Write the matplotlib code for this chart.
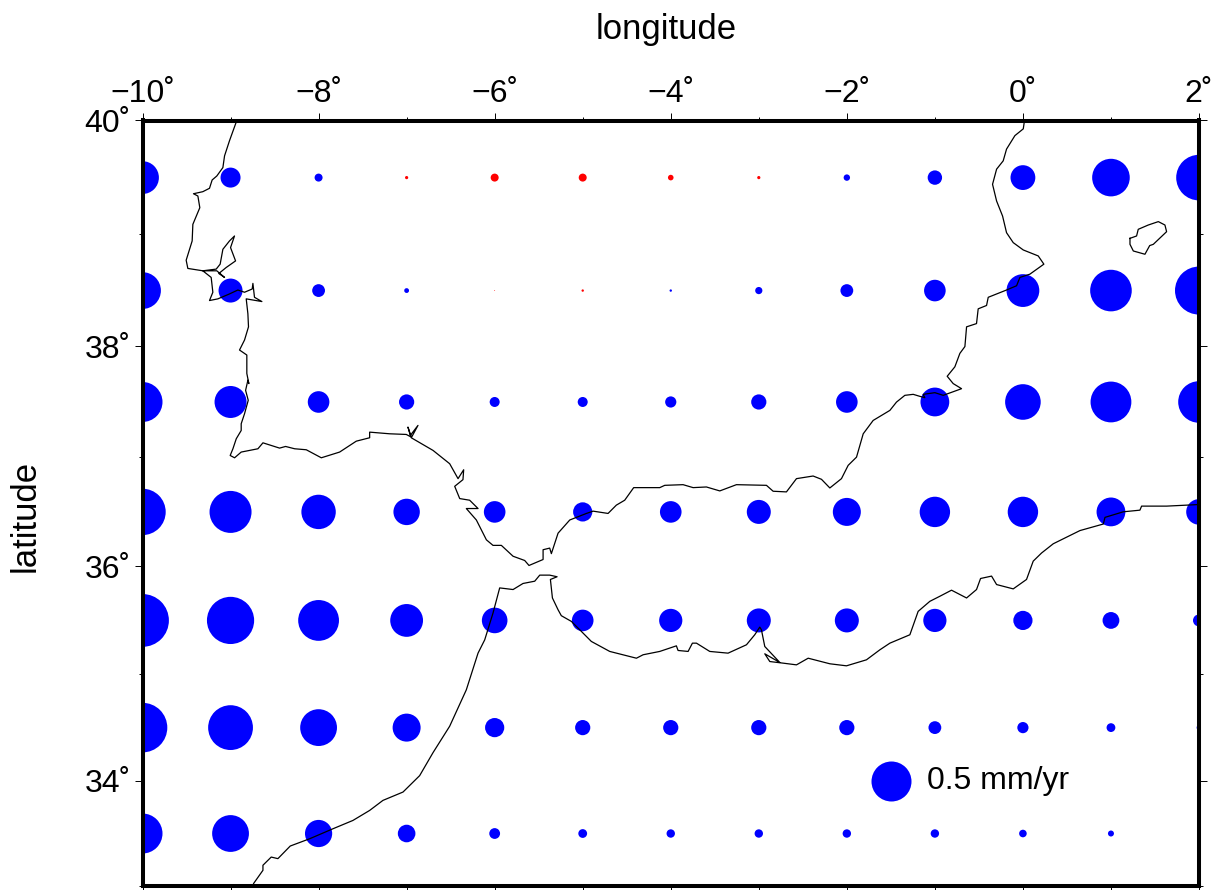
import numpy as np
import matplotlib
matplotlib.use("Agg")
import matplotlib.pyplot as plt

plt.rcParams['font.family'] = ['Liberation Sans', 'DejaVu Sans']

lons = [-10, -9, -8, -7, -6, -5, -4, -3, -2, -1, 0, 1, 2]
lats = [39.5, 38.5, 37.5, 36.5, 35.5, 34.5, 33.5]

# rate in mm/yr, one row per latitude, negative ones are red
rate_395 = [0.41, 0.25, 0.10, -0.04, -0.10, -0.10, -0.07, -0.04, 0.08, 0.18, 0.31, 0.47, 0.57]
rate_385 = [0.46, 0.30, 0.16, 0.06, -0.01, -0.03, 0.03, 0.09, 0.16, 0.27, 0.41, 0.52, 0.60]
rate_375 = [0.50, 0.40, 0.27, 0.19, 0.125, 0.125, 0.14, 0.19, 0.27, 0.36, 0.445, 0.51, 0.52]
rate_365 = [0.58, 0.525, 0.43, 0.33, 0.27, 0.24, 0.27, 0.30, 0.35, 0.38, 0.38, 0.36, 0.32]
rate_355 = [0.66, 0.59, 0.51, 0.41, 0.32, 0.27, 0.29, 0.30, 0.30, 0.29, 0.24, 0.21, 0.15]
rate_345 = [0.62, 0.56, 0.46, 0.35, 0.24, 0.19, 0.19, 0.19, 0.19, 0.16, 0.14, 0.11, 0.06]
rate_335 = [0.50, 0.46, 0.34, 0.22, 0.135, 0.11, 0.105, 0.105, 0.105, 0.105, 0.095, 0.075, 0.045]
rates = [rate_395, rate_385, rate_375, rate_365, rate_355, rate_345, rate_335]

iberia_lon = [-8.936, -9.012, -9.068, -9.087, -9.156, -9.209, -9.239, -9.315, -9.421, -9.371, -9.349, -9.428,
              -9.436, -9.504, -9.485, -9.315, -9.163, -9.118, -9.087, -9.012, -8.955, -9.000, -8.943, -9.050,
              -9.133, -9.068, -9.156, -9.315, -9.220, -9.201, -9.239, -9.144, -9.012, -8.917, -8.841, -8.754,
              -8.746, -8.728, -8.644, -8.822, -8.803, -8.796, -8.841, -8.898, -8.815, -8.815, -8.792,
              -8.803, -8.829, -8.799, -8.841, -8.879, -8.879, -8.935, -8.973, -9.004, -8.954, -8.879, -8.689,
              -8.632, -8.538, -8.443, -8.375, -8.272, -8.140, -7.969, -7.761, -7.572, -7.420, -7.420, -7.193,
              -7.004, -6.947, -6.985, -6.958, -6.871, -6.947, -6.700, -6.511, -6.416, -6.352, -6.360, -6.454,
              -6.397, -6.284, -6.189, -6.322, -6.208, -6.094, -6.019, -5.924, -5.791, -5.659, -5.610, -5.450,
              -5.450, -5.375, -5.356, -5.280, -5.147, -4.958, -4.882,
              -4.712, -4.618, -4.523, -4.421, -4.125, -4.068, -3.860, -3.746, -3.595, -3.443, -3.254, -2.913,
              -2.837, -2.686, -2.572, -2.383, -2.288, -2.193, -2.061, -1.985, -1.890, -1.814, -1.701, -1.511,
              -1.436, -1.341, -1.246, -1.171, -1.114, -1.133, -1.000, -0.905, -0.697,
              -0.792, -0.860, -0.773, -0.716, -0.659, -0.640, -0.527, -0.508, -0.413, -0.394, -0.186, -0.072,
              -0.034, 0.079, 0.238, 0.174, 0.004, -0.110, -0.186, -0.231, -0.299, -0.345, -0.299, -0.224,
              -0.186, -0.091, 0.004, 0.015, 0.02]
iberia_lat = [39.985, 39.823, 39.691, 39.588, 39.514, 39.479, 39.406, 39.376, 39.358, 39.338, 39.235, 39.088,
              38.941, 38.770, 38.697, 38.676, 38.691, 38.735, 38.867, 38.941, 38.985, 38.882, 38.764, 38.705,
              38.652, 38.617, 38.676, 38.676, 38.617, 38.485, 38.411, 38.426, 38.470, 38.505, 38.485, 38.514,
              38.564, 38.440, 38.402, 38.426, 38.293, 38.176, 38.058, 37.968, 37.923, 37.757, 37.666,
              37.696, 37.605, 37.515, 37.394, 37.303, 37.242, 37.167, 37.076, 37.015, 36.994, 37.046, 37.076,
              37.130, 37.106, 37.082, 37.097, 37.076, 37.067, 36.994, 37.046, 37.145, 37.176, 37.227, 37.212,
              37.206, 37.182, 37.273, 37.197, 37.288, 37.176, 37.061, 36.940, 36.804, 36.885, 36.795, 36.734,
              36.622, 36.607, 36.531, 36.531, 36.426, 36.244, 36.193, 36.193, 36.093, 36.054, 36.008, 36.063,
              36.153, 36.168, 36.117, 36.305, 36.426, 36.486, 36.507,
              36.486, 36.562, 36.607, 36.722, 36.722, 36.743, 36.749, 36.722, 36.728, 36.692, 36.749, 36.743,
              36.689, 36.683, 36.804, 36.828, 36.798, 36.719, 36.804, 36.925, 37.000, 37.212, 37.333, 37.424,
              37.499, 37.560, 37.569, 37.551, 37.539, 37.569, 37.584, 37.560, 37.620,
              37.666, 37.732, 37.817, 37.938, 37.999, 38.176, 38.205, 38.337, 38.367, 38.440, 38.505, 38.543,
              38.617, 38.646, 38.735, 38.808, 38.861, 38.926, 39.014, 39.161, 39.294, 39.441, 39.574, 39.647,
              39.750, 39.868, 39.927, 39.985, 40.05]

africa_lon = [-8.738, -8.632, -8.632, -8.538, -8.462, -8.322, -8.102, -7.837, -7.610, -7.420, -7.269, -7.041,
              -6.852, -6.700, -6.511, -6.322, -6.189, -6.113, -6.019, -5.943, -5.791, -5.678, -5.545, -5.488,
              -5.375, -5.291, -5.367, -5.344, -5.280, -5.243, -5.129, -5.015, -4.902, -4.693, -4.390, -4.314,
              -4.125, -3.936, -3.917, -3.803, -3.754, -3.708, -3.557, -3.349, -3.140, -3.046, -2.989, -2.970,
              -2.932, -2.761, -2.932, -2.875, -2.724, -2.572, -2.439, -2.193, -2.004, -1.777, -1.625, -1.511,
              -1.284, -1.190, -1.057, -0.943, -0.811, -0.640, -0.527, -0.481, -0.356, -0.299, -0.110, 0.041,
              0.117, 0.212, 0.345, 0.648, 0.913, 0.932, 1.140, 1.329, 1.348, 1.632, 1.860, 2.011]
africa_lat = [33.024, 33.150, 33.198, 33.276, 33.261, 33.381, 33.450, 33.545, 33.624, 33.719, 33.814, 33.893,
              34.048, 34.265, 34.513, 34.854, 35.196, 35.320, 35.568, 35.801, 35.786, 35.842, 35.863, 35.919,
              35.919, 35.904, 35.879, 35.708, 35.599, 35.544, 35.491, 35.398, 35.305, 35.212, 35.149, 35.181,
              35.212, 35.264, 35.221, 35.212, 35.289, 35.289, 35.212, 35.196, 35.274, 35.367, 35.438, 35.413,
              35.258, 35.109, 35.190, 35.118, 35.103, 35.087, 35.149, 35.097, 35.078, 35.134, 35.227, 35.289,
              35.367, 35.584, 35.677, 35.724, 35.780, 35.708, 35.786, 35.888, 35.910, 35.832, 35.792, 35.879,
              36.048, 36.123, 36.208, 36.329, 36.389, 36.450, 36.501, 36.516, 36.553, 36.553, 36.562, 36.568]

# Ibiza
island_lon = [1.216, 1.291, 1.310, 1.424, 1.538, 1.613, 1.632, 1.481, 1.440, 1.386, 1.254, 1.216, 1.216]
island_lat = [38.964, 38.985, 39.044, 39.082, 39.112, 39.082, 39.023, 38.911, 38.900, 38.823, 38.852, 38.911, 38.964]

legend_rate = 0.5
legend_text = "0.5 mm/yr"


def mercator(lat):
    lat = np.radians(np.asarray(lat, dtype=float))
    return np.log(np.tan(np.pi / 4 + lat / 2))


def inv_mercator(y):
    return np.degrees(2 * np.arctan(np.exp(np.asarray(y, dtype=float))) - np.pi / 2)


def rate_to_area(r):
    # 0.5 mm/yr is a circle 40 px wide, at 100 dpi
    d = np.abs(np.asarray(r, dtype=float)) / 0.5 * 40 * 0.72
    return d ** 2


fig = plt.figure(figsize=(12.19, 8.90), dpi=100)
ax = fig.add_axes([142.5 / 1219, 1 - 886 / 890, (1199 - 142.5) / 1219, (886 - 120.5) / 890])
ax.set_yscale('function', functions=(mercator, inv_mercator))
ax.set_xlim(-10, 2)
ax.set_ylim(33, 40)

for lat, row in zip(lats, rates):
    row = np.array(row)
    ax.scatter(lons, [lat] * len(lons), s=rate_to_area(row), linewidths=0,
               c=['red' if v < 0 else 'blue' for v in row], zorder=2)

ax.plot(iberia_lon, iberia_lat, color='black', lw=0.9, zorder=3)
ax.plot(africa_lon, africa_lat, color='black', lw=0.9, zorder=3)
ax.plot(island_lon, island_lat, color='black', lw=0.9, zorder=3)

ax.scatter([-1.5], [34.0], s=rate_to_area(legend_rate), color='blue', linewidths=0, zorder=2)
ax.text(-1.09, 34.0, legend_text, fontsize=23, va='center', ha='left', zorder=4)

# ticks on all four sides, labels on top and left only
xmaj = [-10, -8, -6, -4, -2, 0, 2]
ymaj = [34, 36, 38, 40]
ax.set_xticks(xmaj)
ax.set_xticks([-9, -7, -5, -3, -1, 1], minor=True)
ax.set_yticks(ymaj)
ax.set_yticks([33, 35, 37, 39], minor=True)
ax.set_xticklabels([f"\u2212{abs(v)}\u02da" if v < 0 else f"{v}\u02da" for v in xmaj])
ax.set_yticklabels([f"{v}\u02da" for v in ymaj])
ax.tick_params(which='major', direction='out', length=6, width=0.7, top=True, bottom=True, left=True, right=True,
               labeltop=True, labelbottom=False, labelleft=True, labelright=False, labelsize=23, pad=2.5)
ax.tick_params(which='minor', direction='out', length=3, width=0.7, top=True, bottom=True, left=True, right=True)

for s in ax.spines.values():
    s.set_linewidth(2.9)
    s.set_zorder(5)

fig.text(666 / 1219, 1 - 30 / 890, "longitude", fontsize=25, ha='center', va='center')
fig.text(25 / 1219, 1 - 516 / 890, "latitude", fontsize=25, ha='center', va='center', rotation=90)

fig.savefig("out.png", dpi=100)
